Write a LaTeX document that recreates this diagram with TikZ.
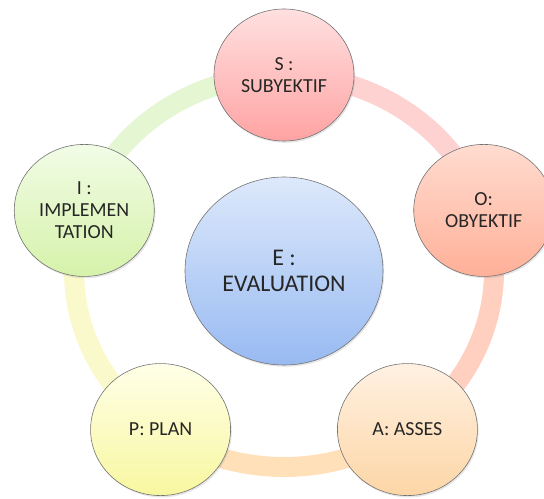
\documentclass[tikz,border=0pt]{standalone}
\usepackage{fontspec}
\setmainfont{Carlito}
\usetikzlibrary{shapes.geometric,shadows,backgrounds}

\definecolor{sTop}{HTML}{FFE0E0}
\definecolor{sBot}{HTML}{FFA3A3}
\definecolor{oTop}{HTML}{FFDCD0}
\definecolor{oBot}{HTML}{FFB098}
\definecolor{aTop}{HTML}{FFF1E2}
\definecolor{aBot}{HTML}{FDD6A6}
\definecolor{pTop}{HTML}{FFFFE8}
\definecolor{pBot}{HTML}{F8F7A0}
\definecolor{iTop}{HTML}{F1FCE6}
\definecolor{iBot}{HTML}{D6F2AA}
\definecolor{eTop}{HTML}{DDE9FB}
\definecolor{eBot}{HTML}{98BAF2}
\definecolor{rSO}{HTML}{FFD2D2}
\definecolor{rOA}{HTML}{FFCFC0}
\definecolor{rAP}{HTML}{FFE0B8}
\definecolor{rPI}{HTML}{FAF9CC}
\definecolor{rIS}{HTML}{E4F6D2}

\begin{document}
\begin{tikzpicture}[x=1bp,y=1bp,
    bub/.style={ellipse, draw=black!55, line width=0.6bp, inner sep=0pt,
      minimum width=140bp, minimum height=132bp, align=center,
      text=black!85, font=\fontsize{20}{22}\selectfont,
      drop shadow={shadow xshift=1.2bp, shadow yshift=-1.8bp, opacity=0.2}},
    band/.style={line width=20bp}]
  \useasboundingbox (-284,-228) rectangle (260,271);
  \clip (-284,-228) rectangle (260,271);

  \node[bub, minimum width=198bp, minimum height=188bp,
        font=\fontsize{24}{26}\selectfont,
        top color=eTop, bottom color=eBot] (eva) at (0,0) {E :\\EVALUATION};
  \node[bub, top color=sTop, bottom color=sBot] (sub) at (90:210 and 196) {S :\\SUBYEKTIF};
  \node[bub, top color=oTop, bottom color=oBot] (oby) at (18:210 and 196) {O:\\OBYEKTIF};
  \node[bub, top color=aTop, bottom color=aBot] (ass) at (-54:210 and 196) {A: ASSES};
  \node[bub, top color=pTop, bottom color=pBot] (pla) at (-126:210 and 196) {P: PLAN};
  \node[bub, top color=iTop, bottom color=iBot] (imp) at (162:210 and 196) {I :\\IMPLEMEN\\TATION};

  \begin{scope}[on background layer]
    \draw[band, rSO] (sub.center) arc[start angle=90, end angle=18, x radius=210, y radius=196];
    \draw[band, rOA] (oby.center) arc[start angle=18, end angle=-54, x radius=210, y radius=196];
    \draw[band, rAP] (ass.center) arc[start angle=-54, end angle=-126, x radius=210, y radius=196];
    \draw[band, rPI] (pla.center) arc[start angle=-126, end angle=-198, x radius=210, y radius=196];
    \draw[band, rIS] (imp.center) arc[start angle=162, end angle=90, x radius=210, y radius=196];
  \end{scope}
\end{tikzpicture}
\end{document}
